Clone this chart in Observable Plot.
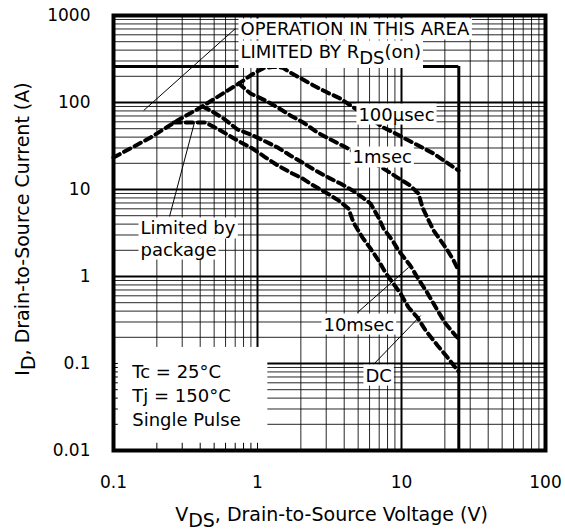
<!DOCTYPE html>
<html><head><meta charset="utf-8">
<script src="https://cdn.jsdelivr.net/npm/d3@7"></script>
<script src="https://cdn.jsdelivr.net/npm/@observablehq/plot@0.6"></script>
<style>body{margin:0;background:#fff} svg{display:block}</style>
</head><body><div id="chart"></div>
<script>
// ---- tick / grid values ----
const xTicks = [0.1, 1, 10, 100];
const yTicks = [0.01, 0.1, 1, 10, 100, 1000];
const xMinor = [0.2,0.3,0.4,0.5,0.6,0.7,0.8,0.9, 2,3,4,5,6,7,8,9, 20,30,40,50,60,70,80,90];
const yMinor = [0.02,0.03,0.04,0.05,0.06,0.07,0.08,0.09, 0.2,0.3,0.4,0.5,0.6,0.7,0.8,0.9,
                2,3,4,5,6,7,8,9, 20,30,40,50,60,70,80,90, 200,300,400,500,600,700,800,900];
const xBoxStubs = [0.2,0.3,0.4,0.5,0.6,0.7,0.8,0.9,1];
const yBoxStubs = [0.02,0.03,0.04,0.05,0.06,0.07,0.08,0.09,0.1];

// ---- limits ----
const vdssMax = [25];
const idMax = [259];

// ---- SOA curves ----
const v100us = [0.1,0.181,0.278,0.402,0.619,0.762,0.938,1.1,1.3,1.5,1.69,2.45,3.06,3.77,4.64,7.5,9.08,16.7,24.9];
const i100us = [23.3,39.6,62,87.7,137,170,215,248,258,250,221,157,130,111,87.7,51.6,44,25.9,16.5];

const v1ms = [0.74,0.893,1.14,1.38,1.69,2.08,2.61,3.11,3.89,7.5,9.38,11.5,13.1,14.0,15.2,16.7,18.7,20.9,23.0,24.9];
const i1ms = [165,127,105,87.7,71,58.9,45.2,38.6,32,17.4,13.7,11.1,9.0,6.2,4.64,3.38,2.59,1.99,1.53,1.17];

const v10ms = [0.415,0.472,0.581,0.726,0.893,1.10,1.38,1.69,2.05,2.53,3.11,3.77,4.57,5.36,6.09,6.92,7.5,8.66,9.53,11.5,12.9,15.2,17.8,20.2,23.7,24.9];
const i10ms = [90,80.9,65.5,49,43,36.6,30.4,24.6,20.4,16.5,13.7,11.7,9.75,8.1,6.9,4.77,3.56,2.59,1.99,1.34,0.975,0.638,0.407,0.288,0.21,0.194];

const vDC = [0.262,0.316,0.435,0.554,0.726,0.922,1.14,1.38,1.69,2.05,2.45,3.06,3.65,4.28,4.64,5.36,6.09,6.92,7.74,9.84,11.2,12.9,14.7,17.8,20.9,24.9];
const iDC = [59,59,59,47.7,36.6,29.6,23.3,18.9,15.7,13.4,11.1,9.0,7.5,6.05,4.18,2.8,2.1,1.53,1.11,0.638,0.44,0.338,0.24,0.161,0.117,0.081];

const seriesNames = ["100µsec","1msec","10msec","DC"];
const seriesV = [v100us, v1ms, v10ms, vDC];
const seriesI = [i100us, i1ms, i10ms, iDC];
const rows = seriesNames.flatMap((s, k) => seriesV[k].map((v, j) => ({series: s, v, i: seriesI[k][j]})));

// ---- annotation texts ----
const labels = [
  {t: "OPERATION IN THIS AREA", x: 0.762, y: 589},
  {t: "LIMITED BY R_{DS}(on)", x: 0.762, y: 329},
  {t: "100μsec", x: 5.02, y: 62},
  {t: "1msec", x: 4.57, y: 19.9},
  {t: "10msec", x: 2.87, y: 0.239},
  {t: "DC", x: 5.62, y: 0.062},
  {t: "Limited by", x: 0.154, y: 3.04},
  {t: "package", x: 0.154, y: 1.74}
];
const conditions = [
  {t: "Tc = 25°C", x: 0.135, y: 0.0673},
  {t: "Tj = 150°C", x: 0.135, y: 0.0357},
  {t: "Single Pulse", x: 0.135, y: 0.0189}
];
const leaders = [
  {x1: 0.703, y1: 709, x2: 0.162, y2: 80.9},
  {x1: 0.245, y1: 4.9, x2: 0.365, y2: 59},
  {x1: 4.95, y1: 0.386, x2: 11.2, y2: 1.27},
  {x1: 6.39, y1: 0.0975, x2: 13.6, y2: 0.356}
];
const xTitle = "V_{DS}, Drain-to-Source Voltage (V)";
const yTitle = "I_{D}, Drain-to-Source Current (A)";

const plot = Plot.plot({
  width: 565, height: 531,
  marginLeft: 113, marginRight: 20, marginTop: 15, marginBottom: 81,
  style: {fontFamily: "DejaVu Sans", fontSize: "17px", color: "#000", background: "#fff"},
  x: {type: "log", domain: [0.1, 100], axis: null},
  y: {type: "log", domain: [0.01, 1000], axis: null},
  marks: [
    Plot.ruleX(xMinor, {stroke: "#000", strokeWidth: 1, strokeOpacity: 0.85}),
    Plot.ruleY(yMinor, {stroke: "#000", strokeWidth: 1, strokeOpacity: 0.85}),
    Plot.ruleX(xTicks, {stroke: "#000", strokeWidth: 2}),
    Plot.ruleY(yTicks, {stroke: "#000", strokeWidth: 2}),
    // white box for the test conditions
    Plot.rect([0], {x1: 0.1, x2: 1.18, y1: 0.01, y2: 0.153, fill: "white"}),
    Plot.ruleX(xBoxStubs, {y1: 0.01, y2: 0.0121, stroke: "#000", strokeWidth: 1}),
    Plot.ruleY(yBoxStubs, {x1: 0.1, x2: 0.108, stroke: "#000", strokeWidth: 1}),
    // limits
    Plot.ruleY(idMax, {x1: 0.1, x2: vdssMax[0], stroke: "#000", strokeWidth: 3}),
    Plot.ruleX(vdssMax, {y1: 0.01, y2: idMax[0], stroke: "#000", strokeWidth: 3}),
    // curves
    Plot.line(rows, {x: "v", y: "i", z: "series", stroke: "#000", strokeWidth: 4, strokeDasharray: "7,5"}),
    // leaders
    Plot.link(leaders, {x1: "x1", y1: "y1", x2: "x2", y2: "y2", stroke: "#000", strokeWidth: 1}),
    // labels
    Plot.text(labels, {x: "x", y: "y", text: "t", textAnchor: "start", lineAnchor: "bottom", fontSize: 18, fill: "#000"}),
    Plot.text(conditions, {x: "x", y: "y", text: "t", textAnchor: "start", lineAnchor: "bottom", fontSize: 18, fill: "#000"}),
    // frame
    Plot.frame({stroke: "#000", strokeWidth: 4}),
    // axes
    Plot.axisX({ticks: xTicks, tickSize: 0, tickPadding: 25, tickFormat: d => String(d), fontSize: 17}),
    Plot.axisY({ticks: yTicks, tickSize: 0, tickPadding: 23, tickFormat: d => String(d), fontSize: 17}),
    Plot.text([xTitle], {text: d => d, frameAnchor: "bottom", dx: 2, dy: 70, lineAnchor: "bottom", textAnchor: "middle", fontSize: 19}),
    Plot.text([yTitle], {text: d => d, frameAnchor: "left", dx: -85, dy: -4, rotate: -90, lineAnchor: "bottom", textAnchor: "middle", fontSize: 19})
  ]
});
document.getElementById("chart").append(plot);

// subscripts
const NS = "http://www.w3.org/2000/svg";
d3.select(plot).selectAll("text").each(function() {
  const t = this.textContent;
  if (!t.includes("_{")) return;
  const parts = t.split(/(_\{[^}]*\})/).filter(p => p);
  this.textContent = "";
  let shifted = false;
  for (const p of parts) {
    const ts = document.createElementNS(NS, "tspan");
    if (p.startsWith("_{")) { ts.textContent = p.slice(2, -1); ts.setAttribute("dy", "0.36em"); shifted = true; }
    else { ts.textContent = p; if (shifted) { ts.setAttribute("dy", "-0.36em"); shifted = false; } }
    this.appendChild(ts);
  }
});

// white boxes behind annotation labels
const boxed = new Set(labels.map(d => d.t.replace(/_\{([^}]*)\}/g, "$1")));
d3.select(plot).selectAll("text").each(function() {
  if (!boxed.has(this.textContent)) return;
  const b = this.getBBox();
  const r = document.createElementNS(NS, "rect");
  r.setAttribute("x", b.x - 2);
  r.setAttribute("y", b.y);
  r.setAttribute("width", b.width + 4);
  r.setAttribute("height", b.height);
  r.setAttribute("fill", "white");
  const tr = this.getAttribute("transform");
  if (tr) r.setAttribute("transform", tr);
  this.parentNode.insertBefore(r, this);
});
</script>
</body></html>
